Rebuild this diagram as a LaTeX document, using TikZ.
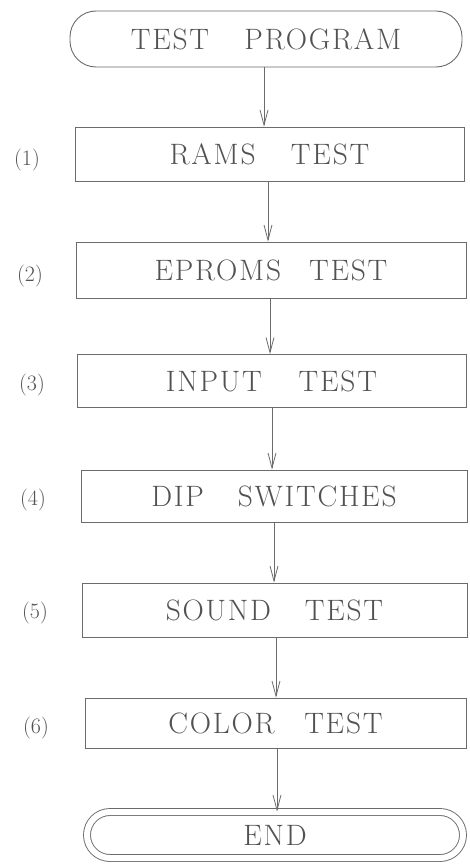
\documentclass[tikz,border=0pt]{standalone}
\usepackage{fontspec}
\usetikzlibrary{arrows.meta}
\newfontfamily\lmspaced{Latin Modern Roman}[LetterSpace=6]
\definecolor{ink}{gray}{0.32}
\definecolor{rule}{gray}{0.42}
\newcommand\boxfont{\lmspaced\fontsize{29.5}{29.5}\selectfont}
\begin{document}
\begin{tikzpicture}[x=1pt,y=-1pt,
  box/.style={draw=rule, text=ink, line width=0.9pt, minimum width=390pt, minimum height=54pt, inner sep=0pt, font=\boxfont},
  term/.style={box, rounded corners=26pt},
  lbl/.style={text=ink, font=\fontsize{22}{22}\selectfont, inner sep=0pt},
  arr/.style={draw=rule, line width=0.8pt, -{Straight Barb[length=15pt,width=8pt,line width=0.8pt]}}
]
\useasboundingbox (0,0) rectangle (469,864);
\fill[white] (0,0) rectangle (469,864);

\node[term, minimum width=392pt, minimum height=56pt] (start) at (266,39) {TEST\hspace{1.2em}PROGRAM};
\node[box, minimum width=389pt, minimum height=54pt] (b1) at (269.5,154) {RAMS\hspace{1.2em}TEST};
\node[box, minimum width=390pt, minimum height=56pt] (b2) at (271,270) {EPROMS\hspace{0.95em}TEST};
\node[box, minimum width=389pt, minimum height=53pt] (b3) at (271.5,381) {INPUT\hspace{1.25em}TEST};
\node[box, minimum width=386pt, minimum height=52pt] (b4) at (274,496) {DIP\hspace{1.15em}SWITCHES};
\node[box, minimum width=385pt, minimum height=54pt] (b5) at (274.5,610) {SOUND\hspace{1.15em}TEST};
\node[box, minimum width=381pt, minimum height=50pt] (b6) at (275.5,723) {COLOR\hspace{1.0em}TEST};
\node[term, rounded corners=23pt, double=white, double distance=6pt, minimum width=376pt, minimum height=46pt] (end) at (275,835) {END};

\node[lbl] (l1) at (27,160) {(1)};
\node[lbl] (l2) at (30,276) {(2)};
\node[lbl] (l3) at (32,385) {(3)};
\node[lbl] (l4) at (33,500) {(4)};
\node[lbl] (l5) at (35,613) {(5)};
\node[lbl] (l6) at (36,728) {(6)};

\coordinate (x1) at (264,0);
\coordinate (x2) at (268,0);
\coordinate (x3) at (270,0);
\coordinate (x4) at (272,0);
\coordinate (x5) at (274,0);
\coordinate (x6) at (276,0);
\coordinate (x7) at (277,0);
\draw[arr] (start.south -| x1) -- (b1.north -| x1);
\draw[arr] (b1.south -| x2) -- (b2.north -| x2);
\draw[arr] (b2.south -| x3) -- (b3.north -| x3);
\draw[arr] (b3.south -| x4) -- (b4.north -| x4);
\draw[arr] (b4.south -| x5) -- (b5.north -| x5);
\draw[arr] (b5.south -| x6) -- (b6.north -| x6);
\draw[arr] (b6.south -| x7) -- (end.north -| x7);
\end{tikzpicture}
\end{document}
